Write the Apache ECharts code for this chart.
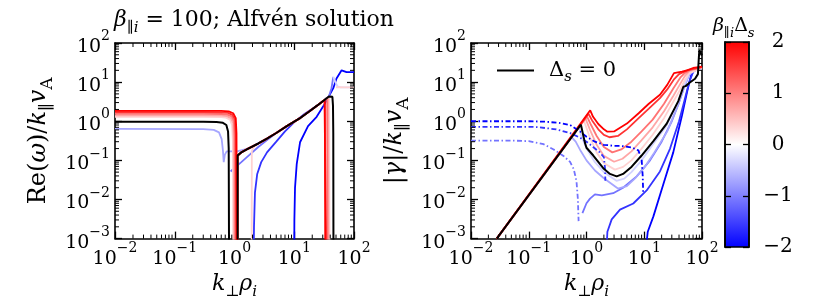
<!DOCTYPE html>
<html><head><meta charset="utf-8">
<script src="https://cdn.jsdelivr.net/npm/echarts@6.0.0/dist/echarts.min.js"></script>
<style>html,body{margin:0;padding:0;background:#fff}#c{width:830px;height:305px}</style>
</head><body><div id="c"></div>
<script>
// ---------- tick values ----------
const kTicks = [0.01, 0.1, 1, 10, 100];
const freqTicks = [0.001, 0.01, 0.1, 1, 10, 100];
const cbarTicks = [-2, -1, 0, 1, 2];
const cbarRange = [-2, 2];

// ---------- left panel: Re(omega)/k_par v_A  vs k_perp rho_i ----------
const reP20A = [[0.01,1.85],[0.3,1.85],[0.6,1.83],[0.8,1.78],[0.95,1.6],[1.05,1.2],[1.08,0.5],[1.1,0.0005]];
const reP16A = [[0.01,1.7],[0.3,1.7],[0.6,1.68],[0.78,1.63],[0.92,1.45],[1.02,1.1],[1.05,0.45],[1.07,0.0005]];
const reP11A = [[0.01,1.55],[0.3,1.55],[0.6,1.53],[0.76,1.48],[0.9,1.32],[0.98,1.0],[1.01,0.4],[1.03,0.0005]];
const reP07A = [[0.01,1.42],[0.3,1.42],[0.6,1.4],[0.74,1.35],[0.87,1.2],[0.95,0.9],[0.97,0.35],[0.99,0.0005]];
const reP035A = [[0.01,1.3],[0.3,1.3],[0.6,1.28],[0.72,1.23],[0.84,1.1],[0.91,0.8],[0.94,0.3],[0.95,0.0005]];
const reP20B = [[1.12,0.0005],[1.12,0.13],[1.3,0.16],[1.7,0.2],[2.5,0.27],[3.5,0.36],[5,0.5],[7.5,0.75],[12.5,1.2],[18,1.8],[24,2.5],[30,3.2],[32.5,3.5],[33,0.0005]];
const reP16B = [[1.12,0.0005],[1.12,0.13],[1.3,0.16],[1.7,0.2],[2.5,0.27],[3.5,0.36],[5,0.5],[7.5,0.75],[12.5,1.2],[18,1.8],[24,2.5],[32,3.5],[34,3.7],[34.5,0.0005]];
const reP11B = [[1.12,0.0005],[1.12,0.13],[1.3,0.16],[1.7,0.2],[2.5,0.27],[3.5,0.36],[5,0.5],[7.5,0.75],[12.5,1.2],[18,1.8],[24,2.5],[32,3.5],[35.5,3.9],[36,0.0005]];
const reP07B = [[1.12,0.0005],[1.12,0.13],[1.3,0.16],[1.7,0.2],[2.5,0.27],[3.5,0.36],[5,0.5],[7.5,0.75],[12.5,1.2],[18,1.8],[24,2.5],[32,3.5],[37,4.1],[37.5,0.0005]];
const reP035B = [[1.94,0.0005],[1.95,0.17],[2.1,0.22],[3,0.32],[5,0.5],[7.5,0.75],[12.5,1.2],[18,1.8],[24,2.5],[32,3.5],[38.5,4.3],[39,0.0005]];
const reP035C = [[50,7.4],[70,7.3],[100,7.3]];
const reBlackA = [[0.01,0.97],[0.3,0.97],[0.5,0.95],[0.64,0.91],[0.73,0.8],[0.78,0.55],[0.8,0.2],[0.81,0.0005]];
const reBlackB = [[1.13,0.0005],[1.13,0.134],[1.3,0.16],[1.7,0.2],[2.5,0.27],[3.5,0.36],[5,0.5],[7.5,0.75],[12.5,1.2],[18,1.8],[24,2.5],[32,3.5],[38,4.3],[41,4.45],[43.5,4.2],[44.5,2.5],[45,0.5],[45.3,0.0005]];
const reM035C = [[45,13.6],[49,10],[53,7.8],[60,7.35],[100,7.3]];
const reM07A = [[0.01,0.64],[0.3,0.63],[0.45,0.6],[0.55,0.52],[0.61,0.35],[0.64,0.18],[0.66,0.09],[0.67,0.085],[0.69,0.14],[0.74,0.17],[1.1,0.17],[1.5,0.19],[2,0.23],[3,0.32],[5,0.5]];
const reM11 = [[0.86,0.052],[1.0,0.064],[1.3,0.09],[1.8,0.14],[2.5,0.22],[3.5,0.33],[5,0.5],[7.5,0.76],[12.5,1.2],[18,1.8],[24,2.5],[32,3.5],[38,4.3],[42,7],[45,13.6]];
const reM16 = [[2.1,0.0005],[2.12,0.002],[2.2,0.015],[2.4,0.045],[2.8,0.09],[3.5,0.16],[5,0.3],[7,0.55],[10,0.95],[15,1.55],[24,2.5],[32,3.5],[38,4.3]];
const reM20 = [[10,0.0005],[10.05,0.003],[10.3,0.02],[11,0.08],[12.5,0.29],[17,0.75],[23.7,1.3],[30,2.3],[37,4.0],[45,7],[51,12.4],[62,20],[66,18.5],[75,18],[100,18]];

// ---------- right panel: |gamma|/k_par v_A  vs k_perp rho_i ----------
const gP20 = [[0.0279,0.001],[1.16,1.9],[1.3,1.3],[1.6,0.85],[2,0.62],[2.3,0.54],[3,0.55],[5,0.87],[8,1.6],[12,2.8],[18.7,4.75],[25,8.5],[32.7,17],[45,18.5],[55,20],[70,23],[100,25]];
const gP16 = [[0.0279,0.001],[1.08,1.55],[1.25,1.05],[1.6,0.62],[2,0.45],[2.5,0.39],[3.5,0.42],[5,0.62],[8,1.2],[12,2.1],[18.7,3.9],[25,6.5],[33,12],[40,16],[55,20],[100,24.5]];
const gP11 = [[0.0279,0.001],[1.02,1.34],[1.2,0.8],[1.5,0.42],[2,0.22],[2.8,0.16],[4,0.19],[6,0.3],[9,0.55],[14,1.1],[22,2.8],[32,7],[42,13],[50,17],[65,21],[100,24]];
const gP07 = [[0.0279,0.001],[0.96,1.18],[1.15,0.6],[1.5,0.25],[2,0.13],[3,0.092],[4.2,0.11],[6,0.17],[9,0.33],[14,0.7],[22,1.8],[32,4.5],[42,9],[50,14],[60,19],[100,24]];
const gP035 = [[0.0279,0.001],[0.9,1.04],[1.1,0.45],[1.5,0.16],[2,0.085],[3.1,0.058],[4.3,0.068],[6,0.1],[9,0.2],[14,0.45],[22,1.2],[32,3.2],[42,6.5],[50,11],[60,17],[100,23]];
const gBlack = [[0.0279,0.001],[0.8,0.82],[0.86,0.5],[0.94,0.28],[1.0,0.21],[1.31,0.133],[1.95,0.063],[2.55,0.045],[3.33,0.039],[4.3,0.045],[6.06,0.069],[9,0.133],[14.4,0.31],[24.5,0.87],[38.9,3.27],[47.5,7.6],[52,7.9],[60,9.5],[75.7,12.2],[85,16],[88,40],[90,66],[92,70],[96,55],[100,48]];
const gM035 = [[0.0279,0.001],[0.74,0.7],[0.8,0.45],[1.0,0.2],[1.4,0.09],[2,0.05],[3.3,0.03],[4.5,0.034],[6,0.05],[9,0.1],[14,0.25],[24,0.75],[38,3.0],[50,9],[60,17],[80,21],[100,22]];
const gM07 = [[0.0279,0.001],[0.55,0.39],[0.65,0.3],[0.8,0.17],[1.0,0.1],[1.4,0.055],[2,0.035],[3.5,0.019],[5,0.022],[7,0.035],[10,0.065],[15,0.16],[25,0.55],[38,2.5],[50,8],[60,16],[80,21],[100,22]];
const gM11 = [[0.85,0.0045],[1.0,0.008],[1.15,0.0105],[1.4,0.0135],[1.84,0.0127],[2.9,0.0145],[4.3,0.02],[7.4,0.039],[12.6,0.1],[20,0.3],[30,1.0],[40,3],[50,8],[60,16],[75,21],[100,22]];
const gM16 = [[2.22,0.0005],[2.3,0.0015],[2.73,0.0031],[3.8,0.0055],[6.45,0.0079],[11,0.017],[18.7,0.052],[28,0.2],[40,1],[50,3.5],[60,10],[70,18],[80,21],[100,22]];
const gM20 = [[10.6,0.0005],[11.5,0.0015],[14.4,0.0037],[21.4,0.0245],[31.8,0.16],[45,1.4],[55,5.5],[64,14],[72,20],[85,22],[100,22]];
const gDashM20 = [[0.01,1.0],[0.1,1.0],[0.2,0.97],[0.35,0.9],[0.52,0.8],[0.77,0.55],[1.0,0.4],[1.4,0.3],[2,0.25],[3,0.235],[4,0.234],[6,0.215],[7.9,0.18],[9,0.11],[9.4,0.04],[9.6,0.014]];
const gDashM16 = [[0.01,0.72],[0.1,0.72],[0.14,0.71],[0.3,0.62],[0.52,0.5],[0.77,0.38],[1.0,0.3],[1.3,0.22],[1.7,0.16],[2.0,0.12],[2.1,0.06],[2.12,0.03]];
const gDashM11 = [[0.01,0.32],[0.05,0.32],[0.1,0.31],[0.18,0.26],[0.27,0.19],[0.4,0.13],[0.52,0.091],[0.6,0.06],[0.67,0.03],[0.71,0.01],[0.72,0.005],[0.73,0.0028]];

// ---------- curve list (panel, beta*Delta_s, data, dashed) ----------
const curves = [
  [0,-2,reM20,0],[0,-1.6,reM16,0],[0,-1.1,reM11,0],[0,-0.7,reM07A,0],[0,-0.35,reM035C,0],
  [0,0.35,reP035A,0],[0,0.35,reP035B,0],[0,0.35,reP035C,0],
  [0,0.7,reP07A,0],[0,0.7,reP07B,0],[0,1.1,reP11A,0],[0,1.1,reP11B,0],
  [0,1.6,reP16A,0],[0,1.6,reP16B,0],[0,2,reP20A,0],[0,2,reP20B,0],
  [0,0,reBlackA,0],[0,0,reBlackB,0],
  [1,-2,gM20,0],[1,-1.6,gM16,0],[1,-1.1,gM11,0],[1,-0.7,gM07,0],[1,-0.35,gM035,0],
  [1,0.35,gP035,0],[1,0.7,gP07,0],[1,1.1,gP11,0],[1,1.6,gP16,0],[1,2,gP20,0],
  [1,-1.1,gDashM11,1],[1,-1.6,gDashM16,1],[1,-2,gDashM20,1],
  [1,0,gBlack,0]
];

const FONT = "'DejaVu Serif', serif";
function bwr(d) {
  if (d === 0) return '#000000';
  let r, g, b;
  if (d > 0) { const t = d / 2; r = 255; g = b = Math.round(255 * (1 - t)); }
  else { const t = -d / 2; r = g = Math.round(255 * (1 - t)); b = 255; }
  return 'rgb(' + r + ',' + g + ',' + b + ')';
}
function richSet(size) {
  const base = {fontFamily: FONT, fontWeight: 'normal', color: '#000'};
  return {
    n: Object.assign({fontSize: size, lineHeight: Math.round(size * 1.4)}, base),
    i: Object.assign({fontSize: size, fontStyle: 'italic', lineHeight: Math.round(size * 1.4)}, base),
    sub: Object.assign({fontSize: Math.round(size * 0.7), fontStyle: 'italic', lineHeight: Math.round(size * 0.9), verticalAlign: 'bottom'}, base),
    subr: Object.assign({fontSize: Math.round(size * 0.7), lineHeight: Math.round(size * 0.9), verticalAlign: 'bottom'}, base)
  };
}
const tickRich = {
  b: {fontFamily: FONT, fontSize: 19, lineHeight: 27, verticalAlign: 'bottom', color: '#000'},
  s: {fontFamily: FONT, fontSize: 14, lineHeight: 15, verticalAlign: 'top', color: '#000'}
};
function logLabel(v) {
  const e = Math.round(Math.log10(v));
  return '{b|10}{s|' + (e < 0 ? '\u2212' + (-e) : e) + '}';
}
const axisLineStyle = {show: true, lineStyle: {color: '#000', width: 1.6}};
const majorTick = {show: true, inside: true, length: 7, lineStyle: {color: '#000', width: 1.3}};

function xAx(grid, pos, labels, name) {
  return {type: 'log', logBase: 10, min: kTicks[0], max: kTicks[kTicks.length - 1], gridIndex: grid, position: pos,
    axisLine: axisLineStyle, axisTick: majorTick, splitLine: {show: false}, minorTick: {show: false},
    axisLabel: {show: labels, formatter: logLabel, rich: tickRich, margin: 3},
    name: name ? '{i|k}{subr|\u22A5}{i|\u03C1}{sub|i}' : '', nameLocation: 'middle', nameGap: 23,
    nameTextStyle: {rich: richSet(22)}};
}
function yAx(grid, pos, labels, name) {
  return {type: 'log', logBase: 10, min: freqTicks[0], max: freqTicks[freqTicks.length - 1], gridIndex: grid, position: pos,
    axisLine: axisLineStyle, axisTick: majorTick, splitLine: {show: false}, minorTick: {show: false},
    axisLabel: {show: labels, formatter: logLabel, rich: tickRich, margin: 5},
    name: name || '', nameLocation: 'middle', nameGap: 76, nameRotate: 90, nameMoveOverlap: false,
    nameTextStyle: {rich: richSet(24), verticalAlign: 'middle'}};
}

// minor tick positions (axis decoration)
const minorK = [], minorF = [];
kTicks.slice(0, -1).forEach(t => { for (let m = 2; m <= 9; m++) minorK.push([t * m, 1]); });
freqTicks.slice(0, -1).forEach(t => { for (let m = 2; m <= 9; m++) minorF.push([1, t * m]); });

function minorSeries(xi, yi, data, isX) {
  return {type: 'custom', xAxisIndex: xi, yAxisIndex: yi, data: data, silent: true, z: 3,
    renderItem: function (params, api) {
      const cs = params.coordSys;
      const L = 4, st = {stroke: '#000', lineWidth: 1};
      if (isX) {
        const px = api.coord([api.value(0), 1])[0];
        return {type: 'group', children: [
          {type: 'line', shape: {x1: px, y1: cs.y + cs.height, x2: px, y2: cs.y + cs.height - L}, style: st},
          {type: 'line', shape: {x1: px, y1: cs.y, x2: px, y2: cs.y + L}, style: st}]};
      } else {
        const py = api.coord([1, api.value(1)])[1];
        return {type: 'group', children: [
          {type: 'line', shape: {x1: cs.x, y1: py, x2: cs.x + L, y2: py}, style: st},
          {type: 'line', shape: {x1: cs.x + cs.width, y1: py, x2: cs.x + cs.width - L, y2: py}, style: st}]};
      }
    }};
}

const series = curves.map(c => {
  const col = bwr(c[1]);
  const ax = c[0] === 0 ? 0 : 2;
  return {type: 'line', name: c[1] === 0 ? 'black' : undefined, xAxisIndex: ax, yAxisIndex: ax, data: c[2],
    symbol: 'none', showSymbol: false, silent: true, z: c[1] === 0 ? 4 : 2,
    itemStyle: {color: col},
    lineStyle: {color: col, width: c[1] === 0 ? 2 : 1.8, type: c[3] ? [5, 2.5, 1.5, 2.5] : 'solid'}};
});
series.push(minorSeries(0, 0, minorK, true), minorSeries(0, 0, minorF, false),
            minorSeries(2, 2, minorK, true), minorSeries(2, 2, minorF, false));
// colorbar
series.push({type: 'custom', xAxisIndex: 4, yAxisIndex: 4, data: [[0, cbarRange[1], 1, cbarRange[0]]], silent: true, z: 1,
  renderItem: function (params, api) {
    const p1 = api.coord([api.value(0), api.value(1)]);
    const p2 = api.coord([api.value(2), api.value(3)]);
    return {type: 'rect', shape: {x: p1[0], y: p1[1], width: p2[0] - p1[0], height: p2[1] - p1[1]},
      style: {fill: new echarts.graphic.LinearGradient(0, 0, 0, 1, [
        {offset: 0, color: bwr(2)}, {offset: 0.5, color: '#ffffff'}, {offset: 1, color: bwr(-2)}]),
        stroke: '#000', lineWidth: 1.6}};
  }});

const chart = echarts.init(document.getElementById('c'), null, {renderer: 'canvas'});
chart.setOption({
  animation: false,
  backgroundColor: '#fff',
  title: [
    {text: '{i|\u03B2}{sub|\u2225i}{n| = 100; Alfv\u00E9n solution}', left: 114, top: 5, padding: 0,
      textStyle: {fontWeight: 'normal', rich: richSet(22)}},
    {text: '{i|\u03B2}{sub|\u2225i}{n|\u0394}{sub|s}', left: 713, top: 13, padding: 0,
      textStyle: {fontWeight: 'normal', rich: richSet(19)}}
  ],
  legend: {data: ['black'], left: 492, top: 55, icon: 'rect', itemWidth: 37, itemHeight: 2,
    formatter: () => '{n|\u0394}{sub|s}{n| = 0}',
    textStyle: {rich: richSet(21), padding: [0, 0, 0, 10]}},
  grid: [
    {left: 115, top: 43, width: 239, height: 204},
    {left: 471, top: 43, width: 231, height: 204},
    {left: 725, top: 42, width: 24, height: 205}
  ],
  xAxis: [
    xAx(0, 'bottom', true, true), xAx(0, 'top', false, false),
    xAx(1, 'bottom', true, true), xAx(1, 'top', false, false),
    {type: 'value', gridIndex: 2, min: 0, max: 1, show: false}
  ],
  yAxis: [
    yAx(0, 'left', true, '{n|Re(}{i|\u03C9}{n|)/}{i|k}{subr|\u2225}{i|v}{subr|A}'), yAx(0, 'right', false, ''),
    yAx(1, 'left', true, '{n||}{i|\u03B3}{n||/}{i|k}{subr|\u2225}{i|v}{subr|A}'), yAx(1, 'right', false, ''),
    {type: 'value', gridIndex: 2, position: 'left', min: cbarRange[0], max: cbarRange[1], interval: 1, z: 10,
      axisLine: {show: true, lineStyle: {color: '#000', width: 1.6}},
      axisTick: {show: true, inside: true, length: 6, lineStyle: {color: '#000', width: 1.3}},
      axisLabel: {show: false}, splitLine: {show: false}},
    {type: 'value', gridIndex: 2, position: 'right', min: cbarRange[0], max: cbarRange[1], interval: 1, z: 10,
      axisLine: {show: true, lineStyle: {color: '#000', width: 1.6}},
      axisTick: {show: true, inside: true, length: 6, lineStyle: {color: '#000', width: 1.3}},
      axisLabel: {show: true, margin: 29, align: 'center', fontFamily: FONT, fontSize: 20, color: '#000',
        formatter: v => (v < 0 ? '\u2212' + (-v) : '' + v)},
      splitLine: {show: false}}
  ],
  series: series
});
</script></body></html>
